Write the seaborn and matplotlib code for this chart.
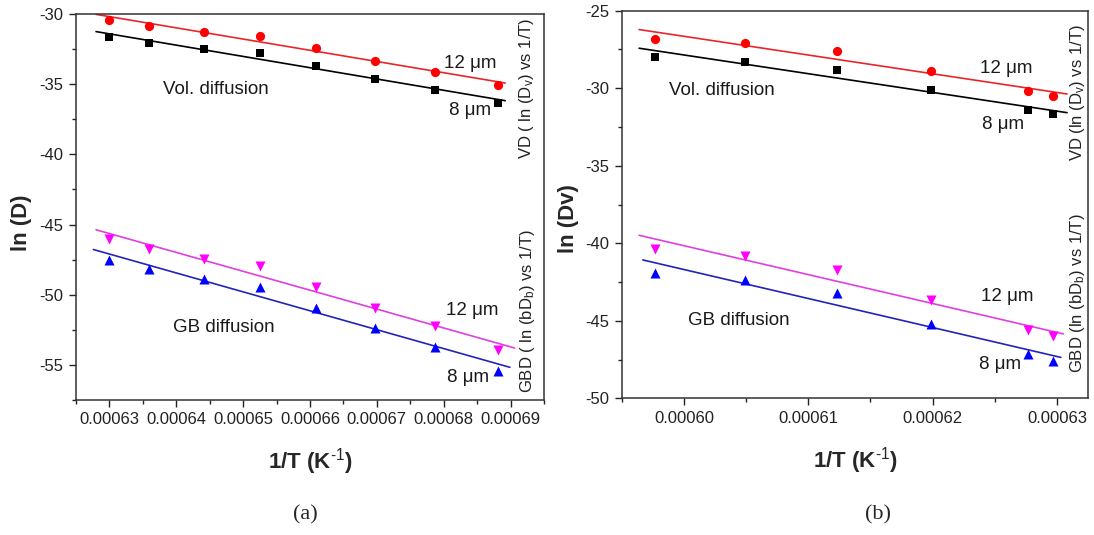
import numpy as np
import pandas as pd
import matplotlib
matplotlib.use("Agg")
import matplotlib.pyplot as plt
from matplotlib.ticker import MultipleLocator, FixedLocator, FormatStrFormatter
import seaborn as sns

# ---- data: ln(D) against inverse temperature ----
# panel (a)
inv_t_a = [0.00063, 0.0006359, 0.0006441, 0.0006525, 0.0006609, 0.0006697, 0.0006787, 0.0006881]
vd_12_a = [-30.43, -30.83, -31.26, -31.55, -32.45, -33.36, -34.12, -35.07]
vd_8_a = [-31.64, -32.07, -32.50, -32.79, -33.69, -34.62, -35.38, -36.31]
gb_12_a = [-46.05, -46.74, -47.45, -47.98, -49.43, -50.91, -52.21, -53.95]
gb_8_a = [-47.55, -48.17, -48.88, -49.45, -50.91, -52.38, -53.69, -55.41]

# panel (b)
inv_t_b = [0.0005977, 0.0006049, 0.0006123, 0.0006199, 0.0006277, 0.0006297]
vd_12_b = [-26.82, -27.10, -27.59, -28.90, -30.16, -30.48]
vd_8_b = [-28.00, -28.30, -28.83, -30.12, -31.38, -31.64]
gb_12_b = [-40.37, -40.84, -41.70, -43.64, -45.58, -46.01]
gb_8_b = [-41.94, -42.37, -43.19, -45.19, -47.13, -47.59]

xticks_a = [0.00063, 0.00064, 0.00065, 0.00066, 0.00067, 0.00068, 0.00069]
xticks_b = [0.00060, 0.00061, 0.00062, 0.00063]

sns.set_style("ticks")
plt.rcParams["font.family"] = ["Liberation Sans", "DejaVu Sans"]
plt.rcParams["mathtext.fontset"] = "custom"
plt.rcParams["mathtext.rm"] = "Liberation Sans"
plt.rcParams["mathtext.it"] = "Liberation Sans"
plt.rcParams["mathtext.bf"] = "Liberation Sans:bold"
plt.rcParams["axes.unicode_minus"] = False

fig = plt.figure(figsize=(10.94, 5.35), dpi=100)
ax_a = fig.add_axes([76 / 1094, 135 / 535, 468 / 1094, 386 / 535])
ax_b = fig.add_axes([621.7 / 1094, 136.7 / 535, 466.5 / 1094, 387.6 / 535])

series_style = [
    # (key, marker, marker colour, line colour, marker size)
    ("vd_12", "o", "#ff0000", "#e8262a", 44),
    ("vd_8", "s", "#000000", "#000000", 34),
    ("gb_12", "v", "#ff00ff", "#e040e0", 52),
    ("gb_8", "^", "#0000ff", "#2323b8", 52),
]


def draw_panel(ax, inv_t, values, fit_span):
    for (key, marker, mcol, lcol, size) in series_style:
        y = values[key]
        df = pd.DataFrame({"x": inv_t, "y": y})
        sns.scatterplot(data=df, x="x", y="y", marker=marker, color=mcol,
                        s=size, linewidth=0, ax=ax, zorder=3)
        slope, icept = np.polyfit(inv_t, y, 1)
        xs = np.array(fit_span[key])
        fit = pd.DataFrame({"x": xs, "y": slope * xs + icept})
        sns.lineplot(data=fit, x="x", y="y", color=lcol, linewidth=1.2,
                     ax=ax, zorder=2)


draw_panel(ax_a, inv_t_a,
           {"vd_12": vd_12_a, "vd_8": vd_8_a, "gb_12": gb_12_a, "gb_8": gb_8_a},
           {"vd_12": [0.000628, 0.0006892], "vd_8": [0.000628, 0.0006892],
            "gb_12": [0.000628, 0.0006906], "gb_8": [0.0006276, 0.0006899]})
draw_panel(ax_b, inv_t_b,
           {"vd_12": vd_12_b, "vd_8": vd_8_b, "gb_12": gb_12_b, "gb_8": gb_8_b},
           {"vd_12": [0.0005964, 0.0006308], "vd_8": [0.0005964, 0.0006308],
            "gb_12": [0.0005964, 0.0006305], "gb_8": [0.0005967, 0.0006303]})

# ---- axes formatting ----
ax_a.set_xlim(0.000625, 0.000695)
ax_a.set_ylim(-57.5, -30)
ax_b.set_xlim(0.000595, 0.0006325)
ax_b.set_ylim(-50, -25)

ax_a.xaxis.set_major_locator(FixedLocator(xticks_a))
ax_a.xaxis.set_minor_locator(MultipleLocator(0.000005))
ax_b.xaxis.set_major_locator(FixedLocator(xticks_b))
ax_b.xaxis.set_minor_locator(MultipleLocator(0.000005))

for ax in (ax_a, ax_b):
    ax.xaxis.set_major_formatter(FormatStrFormatter("%.5f"))
    ax.yaxis.set_major_locator(MultipleLocator(5))
    ax.yaxis.set_minor_locator(MultipleLocator(2.5))
    ax.yaxis.set_major_formatter(FormatStrFormatter("%d"))
    ax.tick_params(which="both", direction="out", top=False, right=False,
                   color="#222222", width=1.0)
    ax.tick_params(which="major", length=5, labelsize=12, labelcolor="#222222", pad=4)
    ax.tick_params(which="minor", length=3)
    for sp in ax.spines.values():
        sp.set_linewidth(1.1)
        sp.set_color("#333333")
    ax.set_xlabel(r"1/T (K$^{\text{-1}}$)", fontsize=16, fontweight="bold")
    ax.xaxis.set_label_coords(0.5, -0.12)

ax_a.set_ylabel("ln (D)", fontsize=16, fontweight="bold")
ax_a.yaxis.set_label_coords(-0.094, 0.46)
ax_b.set_ylabel("ln (Dv)", fontsize=16, fontweight="bold")
ax_b.yaxis.set_label_coords(-0.092, 0.465)

# ---- in-plot annotations ----
note = dict(fontsize=13.5, color="#1a1a1a", va="center", ha="left")
ax_a.text(0.000638, -35.4, "Vol. diffusion", **note)
ax_a.text(0.00068, -33.5, "12 μm", **note)
ax_a.text(0.0006808, -36.86, "8 μm", **note)
ax_a.text(0.0006395, -52.3, "GB diffusion", **note)
ax_a.text(0.0006803, -51.12, "12 μm", **note)
ax_a.text(0.0006805, -55.9, "8 μm", **note)

ax_b.text(0.0005988, -30.14, "Vol. diffusion", **note)
ax_b.text(0.0006238, -28.7, "12 μm", **note)
ax_b.text(0.000624, -32.34, "8 μm", **note)
ax_b.text(0.0006003, -45.0, "GB diffusion", **note)
ax_b.text(0.0006239, -43.43, "12 μm", **note)
ax_b.text(0.0006237, -47.84, "8 μm", **note)

side = dict(fontsize=12, color="#222222", rotation=90, ha="center", va="center")
ax_a.text(0.963, 0.808, r"VD ( ln (D$_v$) vs 1/T)", transform=ax_a.transAxes, **side)
ax_a.text(0.965, 0.23, r"GBD ( ln (bD$_b$) vs 1/T)", transform=ax_a.transAxes, **side)
ax_b.text(0.978, 0.789, r"VD (ln (D$_v$) vs 1/T)", transform=ax_b.transAxes, **side)
ax_b.text(0.978, 0.27, r"GBD (ln (bD$_b$) vs 1/T)", transform=ax_b.transAxes, **side)

# panel captions
cap = dict(fontsize=16, family="Liberation Serif", ha="center", va="center")
ax_a.text(0.49, -0.298, "(a)", transform=ax_a.transAxes, **cap)
ax_b.text(0.55, -0.302, "(b)", transform=ax_b.transAxes, **cap)

fig.savefig("out.png", dpi=100)
